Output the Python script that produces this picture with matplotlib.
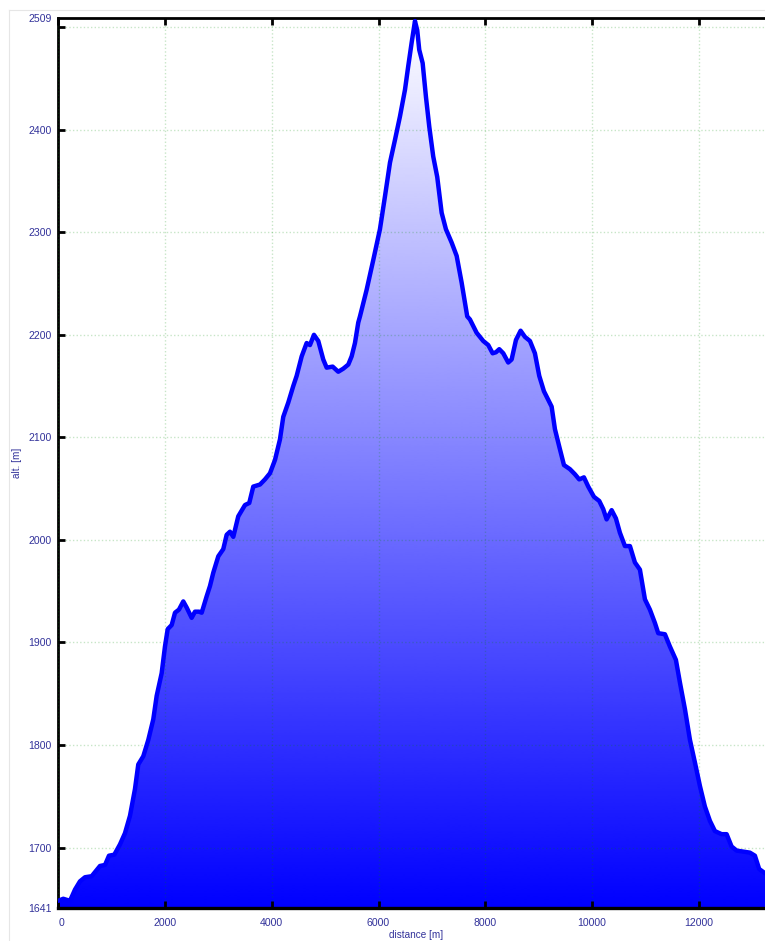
import numpy as np
import matplotlib
matplotlib.use('Agg')
import matplotlib.pyplot as plt
from matplotlib.colors import LinearSegmentedColormap
from matplotlib.patches import Polygon
from matplotlib.lines import Line2D

plt.rcParams['font.family'] = ['Liberation Sans', 'DejaVu Sans']

distance_m = [0, 95, 221, 315, 408, 502, 627, 689, 783, 877, 951, 1051, 1157, 1251,
              1345, 1438, 1500, 1594, 1688, 1781, 1845, 1938, 2000, 2051, 2126, 2188,
              2262, 2343, 2407, 2500, 2562, 2637, 2688, 2781, 2843, 2905, 2999, 3092,
              3156, 3218, 3280, 3373, 3499, 3579, 3654, 3780, 3873, 3967, 4061, 4154,
              4216, 4310, 4403, 4467, 4561, 4654, 4716, 4791, 4872, 4965, 5029, 5141,
              5246, 5340, 5434, 5497, 5559, 5621, 5653, 5778, 5902, 6027, 6121, 6215,
              6308, 6402, 6496, 6557, 6621, 6683, 6726, 6763, 6827, 6889, 6951, 7025,
              7100, 7183, 7263, 7370, 7464, 7557, 7662, 7713, 7838, 7962, 8056, 8138,
              8200, 8262, 8337, 8430, 8494, 8575, 8662, 8743, 8837, 8930, 9011, 9099,
              9243, 9305, 9386, 9474, 9586, 9680, 9760, 9848, 9929, 10036, 10135, 10210,
              10273, 10367, 10447, 10522, 10616, 10710, 10803, 10897, 10991, 11084,
              11178, 11240, 11365, 11459, 11571, 11646, 11740, 11834, 11927, 12021,
              12114, 12208, 12302, 12427, 12521, 12614, 12708, 12832, 12957, 13051,
              13131, 13238, 13300]
altitude_m = [1648, 1650, 1648, 1659, 1667, 1671, 1672, 1676, 1682, 1683, 1692, 1693,
              1703, 1714, 1731, 1757, 1781, 1789, 1805, 1825, 1848, 1870, 1896, 1913,
              1917, 1929, 1932, 1940, 1934, 1924, 1930, 1930, 1929, 1945, 1955, 1968,
              1984, 1991, 2005, 2008, 2003, 2023, 2034, 2036, 2052, 2054, 2059, 2065,
              2078, 2098, 2120, 2134, 2150, 2160, 2179, 2192, 2190, 2200, 2194, 2176,
              2168, 2169, 2164, 2167, 2171, 2179, 2192, 2212, 2218, 2244, 2273, 2303,
              2335, 2368, 2390, 2413, 2439, 2462, 2485, 2506, 2497, 2478, 2465, 2432,
              2403, 2374, 2354, 2319, 2303, 2290, 2277, 2251, 2218, 2215, 2202, 2194,
              2190, 2182, 2183, 2186, 2182, 2173, 2176, 2195, 2204, 2198, 2194, 2182,
              2160, 2145, 2130, 2108, 2091, 2073, 2069, 2064, 2059, 2061, 2052, 2042,
              2038, 2030, 2020, 2029, 2021, 2007, 1994, 1994, 1978, 1971, 1942, 1932,
              1919, 1909, 1908, 1896, 1883, 1861, 1835, 1805, 1783, 1760, 1740, 1726,
              1716, 1713, 1713, 1701, 1697, 1696, 1695, 1692, 1679, 1675, 1674]

x_ticks = [0, 2000, 4000, 6000, 8000, 10000, 12000]
y_major_ticks = [1700, 1800, 1900, 2000, 2100, 2200, 2300, 2400, 2500]
y_major_labels = ['1700', '1800', '1900', '2000', '2100', '2200', '2300', '2400', '']
y_edge_ticks = [1641, 2509]
x_min, x_max = 0, 13240
y_min, y_max = 1641, 2509

W, H = 765, 941
fig = plt.figure(figsize=(W / 100, H / 100), dpi=100)
fig.patch.set_facecolor('white')

# faint outer frame
fig.add_artist(Line2D([8.5 / W, 8.5 / W], [0, 1 - 10 / H], transform=fig.transFigure,
                      color='#e6e6e6', lw=0.8))
fig.add_artist(Line2D([8.5 / W, 1], [1 - 10 / H, 1 - 10 / H], transform=fig.transFigure,
                      color='#e6e6e6', lw=0.8))

left = 58.2 / W
bottom = 33 / H
ax = fig.add_axes([left, bottom, 1 - left, 890 / H])

# gradient fill clipped to profile
xs = np.concatenate([[distance_m[0]], distance_m, [distance_m[-1]]])
ys = np.concatenate([[y_min], altitude_m, [y_min]])
poly = Polygon(np.column_stack([xs, ys]), closed=True, facecolor='none', edgecolor='none')
ax.add_patch(poly)
cmap = LinearSegmentedColormap.from_list('grad', ['#0000ff', '#ffffff'])
grad = np.linspace(0, 1, 512).reshape(-1, 1)
im = ax.imshow(grad, extent=[x_min, x_max, y_min, y_max], origin='lower',
               aspect='auto', cmap=cmap, zorder=1, interpolation='bilinear')
im.set_clip_path(poly)

ax.plot(distance_m, altitude_m, color='#0000ff', lw=3.2, zorder=3,
        solid_joinstyle='round', solid_capstyle='round')

ax.set_xlim(x_min, x_max)
ax.set_ylim(y_min, y_max)

label_color = '#32329a'
ax.set_xticks(x_ticks, labels=[str(v) for v in x_ticks])
ax.set_yticks(y_major_ticks, labels=y_major_labels)
ax.set_yticks(y_edge_ticks, labels=[str(v) for v in y_edge_ticks], minor=True)

ax.tick_params(axis='x', which='major', direction='in', length=5, width=2,
               top=True, bottom=True, labeltop=False, labelsize=7.6,
               labelcolor=label_color, pad=7)
ax.tick_params(axis='y', which='major', direction='in', length=5, width=2,
               left=True, right=False, labelsize=7.6, labelcolor=label_color, pad=4.5)
ax.tick_params(axis='y', which='minor', direction='in', length=0,
               labelsize=7.6, labelcolor=label_color, pad=4.5)
ax.get_xticklabels()[0].set_horizontalalignment('left')

ax.set_axisbelow(False)
ax.grid(True, which='major', color=(0.0, 0.55, 0.0), alpha=0.22, lw=1.0,
        linestyle=(0, (1.0, 1.6)))

for side in ['left', 'top', 'bottom']:
    ax.spines[side].set_color('black')
    ax.spines[side].set_linewidth(2)
ax.spines['bottom'].set_linewidth(2.4)
ax.spines['right'].set_visible(False)

fig.text(16.5 / W, 1 - 463 / H, 'alt. [m]', rotation=90, ha='center', va='center',
         fontsize=7.2, color=label_color)
fig.text(416 / W, 1 - 935 / H, 'distance [m]', ha='center', va='center',
         fontsize=7.2, color=label_color)

fig.savefig('out.png', dpi=100, facecolor='white')
